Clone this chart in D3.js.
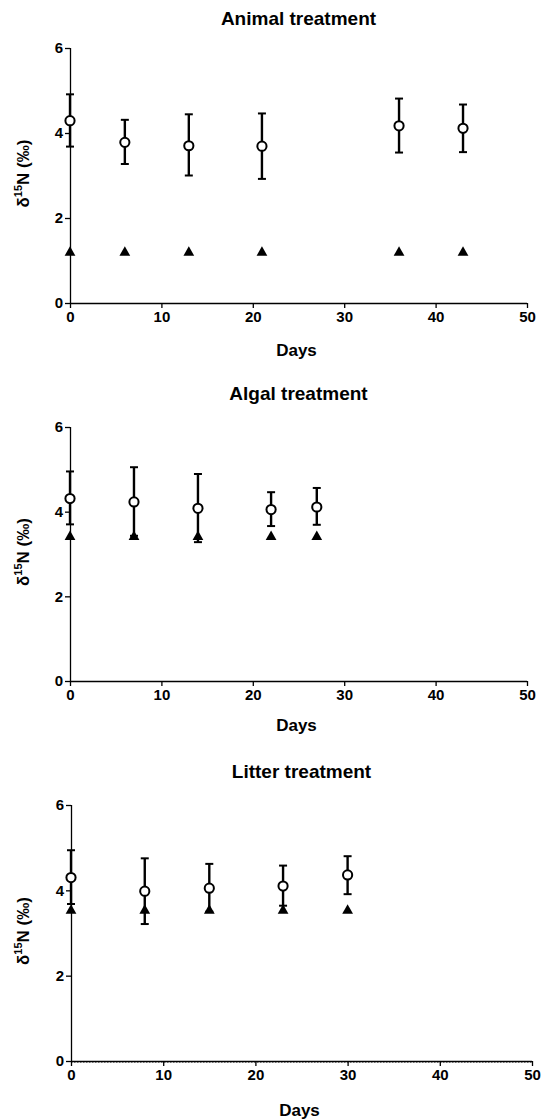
<!DOCTYPE html>
<html>
<head>
<meta charset="utf-8">
<script src="https://cdn.jsdelivr.net/npm/d3@7"></script>
<style>
  body { margin: 0; background: #fff; }
  svg { display: block; }
  text { font-family: "Liberation Sans", Arial, sans-serif; font-weight: bold; fill: #000; }
</style>
</head>
<body>
<svg id="chart" width="542" height="1120"></svg>
<script>
// sampled days for each treatment
const animalDays = [0, 6, 13, 21, 36, 43];
const algalDays = [0, 7, 14, 22, 27];
const litterDays = [0, 8, 15, 23, 30];

// consumer d15N means with lower / upper error limits
const animalMean = [4.29, 3.78, 3.70, 3.69, 4.17, 4.11];
const animalLow = [3.68, 3.27, 3.00, 2.92, 3.54, 3.55];
const animalHigh = [4.91, 4.31, 4.44, 4.46, 4.81, 4.67];

const algalMean = [4.31, 4.23, 4.08, 4.05, 4.11];
const algalLow = [3.70, 3.43, 3.28, 3.66, 3.69];
const algalHigh = [4.95, 5.05, 4.89, 4.46, 4.56];

const litterMean = [4.30, 3.98, 4.05, 4.10, 4.36];
const litterLow = [3.68, 3.21, 3.50, 3.64, 3.91];
const litterHigh = [4.94, 4.75, 4.62, 4.58, 4.80];

// food source d15N (triangles)
const animalFood = [1.21, 1.21, 1.21, 1.21, 1.21, 1.21];
const algalFood = [3.43, 3.43, 3.43, 3.43, 3.43];
const litterFood = [3.55, 3.55, 3.55, 3.55, 3.55];

const titles = ["Animal treatment", "Algal treatment", "Litter treatment"];
const xTicks = [0, 10, 20, 30, 40, 50];
const yTicks = [0, 2, 4, 6];

// layout of the three stacked panels
const panels = [
  { title: titles[0], days: animalDays, mean: animalMean, low: animalLow, high: animalHigh, food: animalFood,
    titleY: 25, top: 48, bottom: 303, left: 70, right: 527, daysY: 356 },
  { title: titles[1], days: algalDays, mean: algalMean, low: algalLow, high: algalHigh, food: algalFood,
    titleY: 400, top: 427, bottom: 681, left: 70, right: 527, daysY: 731 },
  { title: titles[2], days: litterDays, mean: litterMean, low: litterLow, high: litterHigh, food: litterFood,
    titleY: 778, top: 805, bottom: 1061, left: 71, right: 532, daysY: 1116, zeroLine: true }
];

const svg = d3.select("#chart");

panels.forEach(p => {
  const x = d3.scaleLinear().domain([0, 50]).range([p.left, p.right]);
  const y = d3.scaleLinear().domain([0, 6]).range([p.bottom, p.top]);
  const g = svg.append("g");

  g.append("text")
    .attr("x", (p.left + p.right) / 2)
    .attr("y", p.titleY)
    .attr("text-anchor", "middle")
    .attr("font-size", 19)
    .text(p.title);

  if (p.zeroLine) {
    g.append("line")
      .attr("x1", x(0)).attr("x2", x(50))
      .attr("y1", y(0) + 1.5).attr("y2", y(0) + 1.5)
      .attr("stroke", "#888").attr("stroke-width", 1)
      .attr("stroke-dasharray", "1.5,1.5");
  }

  const xAxis = g.append("g")
    .attr("transform", `translate(0,${p.bottom})`)
    .call(d3.axisBottom(x).tickValues(xTicks).tickSize(5).tickPadding(3).tickFormat(d3.format("d")));
  const yAxis = g.append("g")
    .attr("transform", `translate(${p.left},0)`)
    .call(d3.axisLeft(y).tickValues(yTicks).tickSize(5).tickPadding(2).tickFormat(d3.format("d")));

  [xAxis, yAxis].forEach(a => {
    a.select(".domain").attr("stroke", "#000").attr("stroke-width", 1.3);
    a.selectAll(".tick line").attr("stroke", "#000").attr("stroke-width", 1.3);
    a.selectAll(".tick text")
      .attr("font-size", 15)
      .style("font-family", '"Liberation Sans", Arial, sans-serif')
      .style("font-weight", "bold")
      .attr("fill", "#000");
  });
  // remove outer tick ends of domain
  xAxis.select(".domain").attr("d", `M${p.left},0.5H${p.right}`);
  yAxis.select(".domain").attr("d", `M0.5,${p.top}V${p.bottom}`);

  g.append("text")
    .attr("x", (p.left + p.right) / 2 - 2)
    .attr("y", p.daysY)
    .attr("text-anchor", "middle")
    .attr("font-size", 17)
    .text("Days");

  const yl = g.append("text")
    .attr("transform", `translate(29,${(p.top + p.bottom) / 2 - 2}) rotate(-90)`)
    .attr("text-anchor", "middle")
    .attr("font-size", 17);
  yl.append("tspan").text("δ");
  yl.append("tspan").attr("font-size", 11).attr("dy", -7).text("15");
  yl.append("tspan").attr("dy", 7).text("N (‰)");

  const rows = p.days.map((d, i) => ({ d, m: p.mean[i], lo: p.low[i], hi: p.high[i], f: p.food[i] }));

  // food source triangles
  const tri = d3.symbol().type(d3.symbolTriangle).size(50);
  g.selectAll(".food").data(rows).join("path")
    .attr("transform", r => `translate(${x(r.d)},${y(r.f) + 1})`)
    .attr("d", tri)
    .attr("fill", "#000");

  // error bars
  const eb = g.selectAll(".eb").data(rows).join("g");
  eb.append("line")
    .attr("x1", r => x(r.d)).attr("x2", r => x(r.d))
    .attr("y1", r => y(r.lo)).attr("y2", r => y(r.hi))
    .attr("stroke", "#000").attr("stroke-width", 2.4);
  ["lo", "hi"].forEach(k => {
    eb.append("line")
      .attr("x1", r => x(r.d) - 4).attr("x2", r => x(r.d) + 4)
      .attr("y1", r => y(r[k])).attr("y2", r => y(r[k]))
      .attr("stroke", "#000").attr("stroke-width", 2);
  });

  // consumer means
  g.selectAll(".mean").data(rows).join("circle")
    .attr("cx", r => x(r.d))
    .attr("cy", r => y(r.m))
    .attr("r", 4.6)
    .attr("fill", "#fff")
    .attr("stroke", "#000")
    .attr("stroke-width", 2);
});
</script>
</body>
</html>
